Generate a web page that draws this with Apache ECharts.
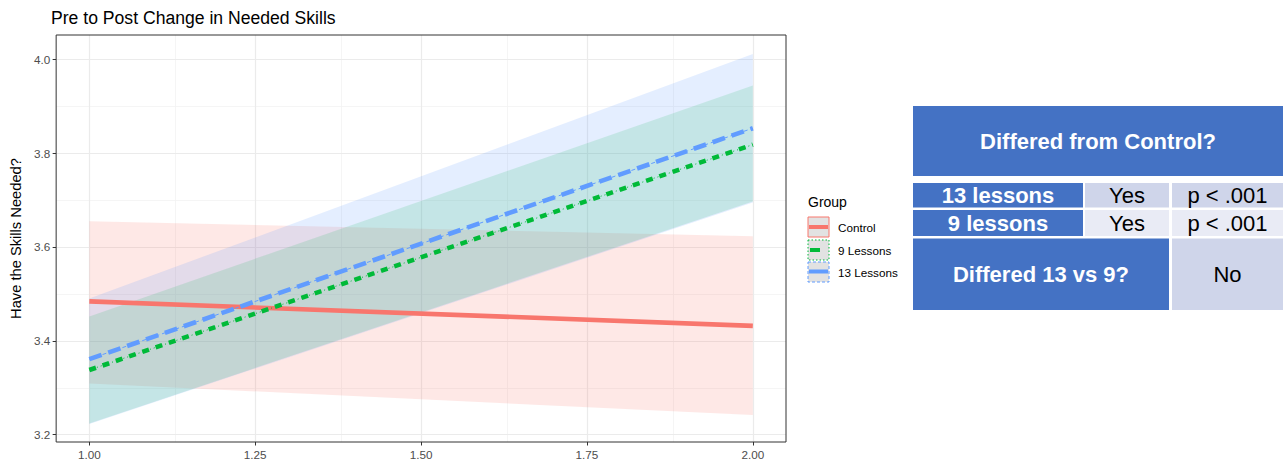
<!DOCTYPE html>
<html>
<head>
<meta charset="utf-8">
<script src="https://cdn.jsdelivr.net/npm/echarts@6/dist/echarts.min.js"></script>
<style>
html,body{margin:0;padding:0;background:#fff;}
#chart{width:1283px;height:460px;}
</style>
</head>
<body>
<div id="chart"></div>
<script>
// ---- data ----
const xValues = [1, 2];
const groups = ['Control', '9 Lessons', '13 Lessons'];
const controlFit = [3.484, 3.432];
const controlLow = [3.309, 3.242];
const controlHigh = [3.655, 3.623];
const nineFit = [3.338, 3.818];
const nineLow = [3.224, 3.697];
const nineHigh = [3.452, 3.944];
const thirteenFit = [3.361, 3.853];
const thirteenLow = [3.223, 3.695];
const thirteenHigh = [3.490, 4.011];

const xTicks = [1.00, 1.25, 1.50, 1.75, 2.00];
const xMinor = [1.125, 1.375, 1.625, 1.875];
const yTicks = [3.2, 3.4, 3.6, 3.8, 4.0];
const yMinor = [3.3, 3.5, 3.7, 3.9];

const tableHeader = 'Differed from Control?';
const tableRowLabels = ['13 lessons', '9 lessons'];
const tableRowAnswers = ['Yes', 'Yes'];
const tableRowP = ['p < .001', 'p < .001'];
const tableFootLabel = 'Differed 13 vs 9?';
const tableFootAnswer = 'No';

// ---- styling ----
const FONT = '"Liberation Sans", Arial, sans-serif';
const RED = '#F8766D', GREEN = '#00BA38', BLUE = '#619CFF';
const ribbonFill = ['rgba(248,118,109,0.17)', 'rgba(0,186,56,0.15)', 'rgba(97,156,255,0.17)'];

function pairs(xs, ys) { return xs.map((x, i) => [x, ys[i]]); }
function segments(xs, lo, hi) {
  const out = [];
  for (let i = 0; i < xs.length - 1; i++) out.push([xs[i], lo[i], hi[i], xs[i + 1], lo[i + 1], hi[i + 1]]);
  return out;
}
function ribbonSeries(name, xs, lo, hi, fill) {
  return {
    type: 'custom', name: name, z: 4, silent: true,
    data: segments(xs, lo, hi),
    encode: { x: [0, 3], y: [1, 2, 4, 5] },
    renderItem: function (params, api) {
      const p1 = api.coord([api.value(0), api.value(1)]);
      const p2 = api.coord([api.value(3), api.value(4)]);
      const p3 = api.coord([api.value(3), api.value(5)]);
      const p4 = api.coord([api.value(0), api.value(2)]);
      return { type: 'polygon', shape: { points: [p1, p2, p3, p4] }, style: { fill: fill } };
    }
  };
}
function lineSeries(name, ys, color, width, dash) {
  return {
    type: 'line', name: name, data: pairs(xValues, ys), showSymbol: false, symbol: 'none',
    silent: true, z: 6,
    lineStyle: { color: color, width: width, type: dash, cap: 'butt' }
  };
}

const gridLines = [];
xMinor.forEach(v => gridLines.push({ xAxis: v, lineStyle: { color: '#F3F3F3', width: 0.8, type: 'solid' } }));
yMinor.forEach(v => gridLines.push({ yAxis: v, lineStyle: { color: '#F3F3F3', width: 0.8, type: 'solid' } }));
xTicks.forEach(v => gridLines.push({ xAxis: v, lineStyle: { color: '#EBEBEB', width: 1.2, type: 'solid' } }));
yTicks.forEach(v => gridLines.push({ yAxis: v, lineStyle: { color: '#EBEBEB', width: 1.2, type: 'solid' } }));

// ---- legend (graphic) ----
const legendX = 808, keyW = 21, keyH = 20;
const legendKeysY = [217, 240, 262];
const legendGraphic = [
  { type: 'text', left: 808, top: 195, style: { text: 'Group', font: '14px ' + FONT, fill: '#000' } }
];
const keyBorders = [
  { stroke: RED, lineDash: null },
  { stroke: GREEN, lineDash: [1.5, 2] },
  { stroke: BLUE, lineDash: [3, 2] }
];
groups.forEach((g, i) => {
  const y = legendKeysY[i];
  legendGraphic.push({
    type: 'rect', shape: { x: legendX, y: y, width: keyW, height: keyH },
    style: { fill: '#E2E2E2', stroke: keyBorders[i].stroke, lineWidth: 1, lineDash: keyBorders[i].lineDash }
  });
  legendGraphic.push({
    type: 'text', x: 838, y: y + keyH / 2,
    style: { text: g, font: '11.7px ' + FONT, fill: '#000', verticalAlign: 'middle', align: 'left' }
  });
});
legendGraphic.push({ type: 'line', shape: { x1: legendX + 1, y1: 227, x2: legendX + keyW - 1, y2: 227 }, style: { stroke: RED, lineWidth: 4 } });
legendGraphic.push({ type: 'line', shape: { x1: legendX + 2, y1: 250, x2: legendX + 12, y2: 250 }, style: { stroke: GREEN, lineWidth: 4 } });
legendGraphic.push({ type: 'line', shape: { x1: legendX + 1, y1: 271.5, x2: legendX + keyW - 1, y2: 271.5 }, style: { stroke: BLUE, lineWidth: 4 } });

// ---- table (graphic) ----
const TBLUE = '#4472C4', TLIGHT1 = '#CFD5EA', TLIGHT2 = '#E9EBF5';
const tableGraphic = [];
function cell(x, y, w, h, fill, text, bold, color) {
  tableGraphic.push({ type: 'rect', shape: { x: x, y: y, width: w, height: h }, style: { fill: fill } });
  tableGraphic.push({
    type: 'text', x: x + w / 2, y: y + h / 2,
    style: { text: text, font: (bold ? 'bold ' : '') + '22px ' + FONT, fill: color, align: 'center', verticalAlign: 'middle' }
  });
}
cell(913, 106, 370, 70, TBLUE, tableHeader, true, '#fff');
const rowYs = [183, 210], rowHs = [24.5, 26], rowFill = [TLIGHT1, TLIGHT2];
tableRowLabels.forEach((lab, i) => {
  cell(913, rowYs[i], 170, rowHs[i], TBLUE, lab, true, '#fff');
  cell(1085, rowYs[i], 84, rowHs[i], rowFill[i], tableRowAnswers[i], false, '#000');
  cell(1172, rowYs[i], 111, rowHs[i], rowFill[i], tableRowP[i], false, '#000');
});
cell(913, 238.5, 256, 71.5, TBLUE, tableFootLabel, true, '#fff');
cell(1172, 238.5, 111, 71.5, TLIGHT1, tableFootAnswer, false, '#000');

const chart = echarts.init(document.getElementById('chart'), null, { renderer: 'svg' });
chart.setOption({
  animation: false,
  backgroundColor: '#fff',
  textStyle: { fontFamily: FONT },
  title: {
    text: 'Pre to Post Change in Needed Skills', left: 46, top: 4,
    textStyle: { fontFamily: FONT, fontSize: 17.6, fontWeight: 'normal', color: '#000' }
  },
  grid: { left: 51, top: 35, width: 735, height: 408, show: true, borderColor: '#333', borderWidth: 1, backgroundColor: 'transparent', z: 8 },
  xAxis: {
    type: 'value', min: 0.95, max: 2.05,
    axisLine: { show: false },
    splitLine: { show: false },
    axisTick: { show: true, length: 3.5, lineStyle: { color: '#333' }, customValues: xTicks },
    axisLabel: { customValues: xTicks, formatter: v => v.toFixed(2), color: '#4D4D4D', fontSize: 11.7, fontFamily: FONT, margin: 6 }
  },
  yAxis: {
    type: 'value', min: 3.1845, max: 4.0516,
    name: 'Have the Skills Needed?', nameLocation: 'middle', nameGap: 30, nameRotate: 90,
    nameTextStyle: { color: '#000', fontSize: 14.7, fontFamily: FONT },
    axisLine: { show: false },
    splitLine: { show: false },
    axisTick: { show: true, length: 3.5, lineStyle: { color: '#333' }, customValues: yTicks },
    axisLabel: { customValues: yTicks, formatter: v => v.toFixed(1), color: '#4D4D4D', fontSize: 11.7, fontFamily: FONT, margin: 6 }
  },
  graphic: legendGraphic.concat(tableGraphic),
  series: [
    {
      type: 'line', name: 'grid', data: [], z: 1, silent: true,
      markLine: { z: 1, silent: true, symbol: ['none', 'none'], label: { show: false }, animation: false, data: gridLines }
    },
    ribbonSeries('Control band', xValues, controlLow, controlHigh, ribbonFill[0]),
    ribbonSeries('9 Lessons band', xValues, nineLow, nineHigh, ribbonFill[1]),
    ribbonSeries('13 Lessons band', xValues, thirteenLow, thirteenHigh, ribbonFill[2]),
    lineSeries('Control', controlFit, RED, 4.6, 'solid'),
    lineSeries('9 Lessons thin', nineFit, GREEN, 1, [1, 3]),
    lineSeries('9 Lessons', nineFit, GREEN, 4.6, [7, 7]),
    lineSeries('13 Lessons thin', thirteenFit, BLUE, 1, [4, 3]),
    lineSeries('13 Lessons', thirteenFit, BLUE, 4.6, [13, 7])
  ]
});
</script>
</body>
</html>
